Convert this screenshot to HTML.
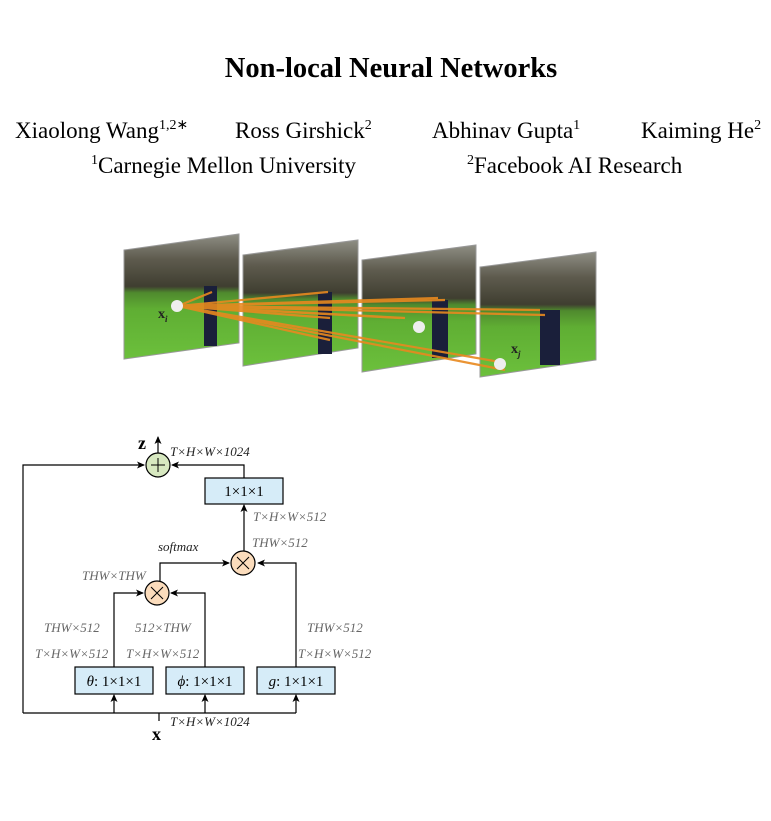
<!DOCTYPE html>
<html><head><meta charset="utf-8"><style>
body{margin:0;background:#fff;}
svg{display:block;}
.t{font-family:"Liberation Serif",serif;}
.lab{font-family:"Liberation Serif",serif;font-style:italic;font-size:13px;fill:#666;}
</style></head><body>
<svg width="771" height="821" viewBox="0 0 771 821" xmlns="http://www.w3.org/2000/svg">
<defs>
<linearGradient id="fr" x1="0" y1="0" x2="0" y2="1">
<stop offset="0" stop-color="#8e8e84"/><stop offset="0.2" stop-color="#5e5b4e"/><stop offset="0.42" stop-color="#3f3e30"/><stop offset="0.47" stop-color="#4f8a2e"/><stop offset="0.6" stop-color="#5fae33"/><stop offset="1" stop-color="#6cc03c"/>
</linearGradient>
<marker id="a" markerWidth="8" markerHeight="8" refX="7" refY="4" orient="auto" markerUnits="userSpaceOnUse"><path d="M0,0.5 L8,4 L0,7.5 L2,4z" fill="#000"/></marker>
</defs>
<text class="t" x="391" y="77" font-size="28.5" font-weight="bold" text-anchor="middle">Non-local Neural Networks</text>
<g class="t" font-size="23">
<text x="15" y="138">Xiaolong Wang<tspan font-size="14" dy="-9">1,2</tspan><tspan font-size="14">∗</tspan></text>
<text x="235" y="138">Ross Girshick<tspan font-size="14" dy="-9">2</tspan></text>
<text x="432" y="138">Abhinav Gupta<tspan font-size="14" dy="-9">1</tspan></text>
<text x="641" y="138">Kaiming He<tspan font-size="14" dy="-9">2</tspan></text>
<text x="91" y="173"><tspan font-size="14" dy="-9">1</tspan><tspan dy="9">Carnegie Mellon University</tspan></text>
<text x="467" y="173"><tspan font-size="14" dy="-9">2</tspan><tspan dy="9">Facebook AI Research</tspan></text>
</g>
<g stroke="#999" stroke-width="1">
<polygon points="124,250 239,234 239,343 124,359" fill="url(#fr)"/>
<polygon points="243,255 358,240 358,348 243,366" fill="url(#fr)"/>
<polygon points="362,260 476,245 476,354 362,372" fill="url(#fr)"/>
<polygon points="480,267 596,252 596,360 480,377" fill="url(#fr)"/>
</g>
<g fill="#1a1f3a">
<rect x="204" y="286" width="13" height="60"/><rect x="318" y="292" width="14" height="62"/><rect x="432" y="300" width="16" height="58"/><rect x="540" y="310" width="20" height="55"/>
</g>
<g stroke="#e8891f" stroke-width="2.2" fill="none" opacity="0.9">
<line x1="178" y1="306" x2="212" y2="292"/><line x1="178" y1="306" x2="328" y2="292"/>
<line x1="178" y1="306" x2="438" y2="298"/><line x1="178" y1="306" x2="540" y2="310"/>
<line x1="178" y1="306" x2="330" y2="318"/><line x1="178" y1="306" x2="405" y2="318"/>
<line x1="178" y1="306" x2="545" y2="315"/><line x1="178" y1="306" x2="445" y2="300"/>
<line x1="178" y1="306" x2="505" y2="370"/><line x1="178" y1="306" x2="500" y2="362"/>
<line x1="178" y1="306" x2="330" y2="340"/><line x1="178" y1="306" x2="400" y2="318"/>
</g>
<circle cx="177" cy="306" r="6" fill="#eee"/><circle cx="500" cy="364" r="6" fill="#eee"/><circle cx="419" cy="327" r="6" fill="#eee"/>
<text class="t" x="158" y="318" font-size="14" font-weight="bold" fill="#222">x<tspan font-size="9" dy="4" font-style="italic">i</tspan></text>
<text class="t" x="511" y="353" font-size="14" font-weight="bold" fill="#222">x<tspan font-size="9" dy="4" font-style="italic">j</tspan></text>
<g stroke="#000" stroke-width="1.2" fill="none">
<polyline points="23,713 23,465 144,465" marker-end="url(#a)"/>
<polyline points="23,713 296,713"/>
<polyline points="244,478 244,465 172,465" marker-end="url(#a)"/>
<line x1="158" y1="453" x2="158" y2="437" marker-end="url(#a)"/>
<line x1="244" y1="551" x2="244" y2="505" marker-end="url(#a)"/>
<polyline points="160,581 160,563 229,563" marker-end="url(#a)"/>
<polyline points="296,667 296,563 258,563" marker-end="url(#a)"/>
<polyline points="114,667 114,593 143,593" marker-end="url(#a)"/>
<polyline points="205,667 205,593 171,593" marker-end="url(#a)"/>
<line x1="114" y1="713" x2="114" y2="695" marker-end="url(#a)"/>
<line x1="205" y1="713" x2="205" y2="695" marker-end="url(#a)"/>
<line x1="296" y1="713" x2="296" y2="695" marker-end="url(#a)"/>
<line x1="159" y1="713" x2="159" y2="721"/>
</g>
<circle cx="158" cy="465" r="12" fill="#d7e8c0" stroke="#000" stroke-width="1.2"/>
<path d="M151,465h14M158,458v14" stroke="#000" stroke-width="1"/>
<circle cx="243" cy="563" r="12" fill="#fbdcbc" stroke="#000" stroke-width="1.2"/>
<path d="M237,557l12,12M249,557l-12,12" stroke="#000" stroke-width="1"/>
<circle cx="157" cy="593" r="12" fill="#fbdcbc" stroke="#000" stroke-width="1.2"/>
<path d="M151,587l12,12M163,587l-12,12" stroke="#000" stroke-width="1"/>
<g fill="#d6ecf8" stroke="#000" stroke-width="1.2">
<rect x="205" y="478" width="78" height="26"/>
<rect x="75" y="667" width="78" height="27"/>
<rect x="166" y="667" width="78" height="27"/>
<rect x="257" y="667" width="78" height="27"/>
</g>
<g class="t" font-size="15" text-anchor="middle">
<text x="244" y="496">1×1×1</text>
<text x="114" y="686"><tspan font-style="italic">θ</tspan>: 1×1×1</text>
<text x="205" y="686"><tspan font-style="italic">ϕ</tspan>: 1×1×1</text>
<text x="296" y="686"><tspan font-style="italic">g</tspan>: 1×1×1</text>
</g>
<text class="t" x="138" y="449" font-size="18" font-weight="bold">z</text>
<text class="t" x="152" y="740" font-size="18" font-weight="bold">x</text>
<text class="lab" x="170" y="456" style="fill:#222">T×H×W×1024</text>
<text class="lab" x="170" y="726" style="fill:#222">T×H×W×1024</text>
<text class="lab" x="253" y="521">T×H×W×512</text>
<text class="lab" x="252" y="547">THW×512</text>
<text class="lab" x="158" y="551" style="fill:#222">softmax</text>
<text class="lab" x="82" y="580">THW×THW</text>
<text class="lab" x="44" y="632">THW×512</text>
<text class="lab" x="135" y="632">512×THW</text>
<text class="lab" x="307" y="632">THW×512</text>
<text class="lab" x="35" y="658">T×H×W×512</text>
<text class="lab" x="126" y="658">T×H×W×512</text>
<text class="lab" x="298" y="658">T×H×W×512</text>
</svg>
</body></html>
